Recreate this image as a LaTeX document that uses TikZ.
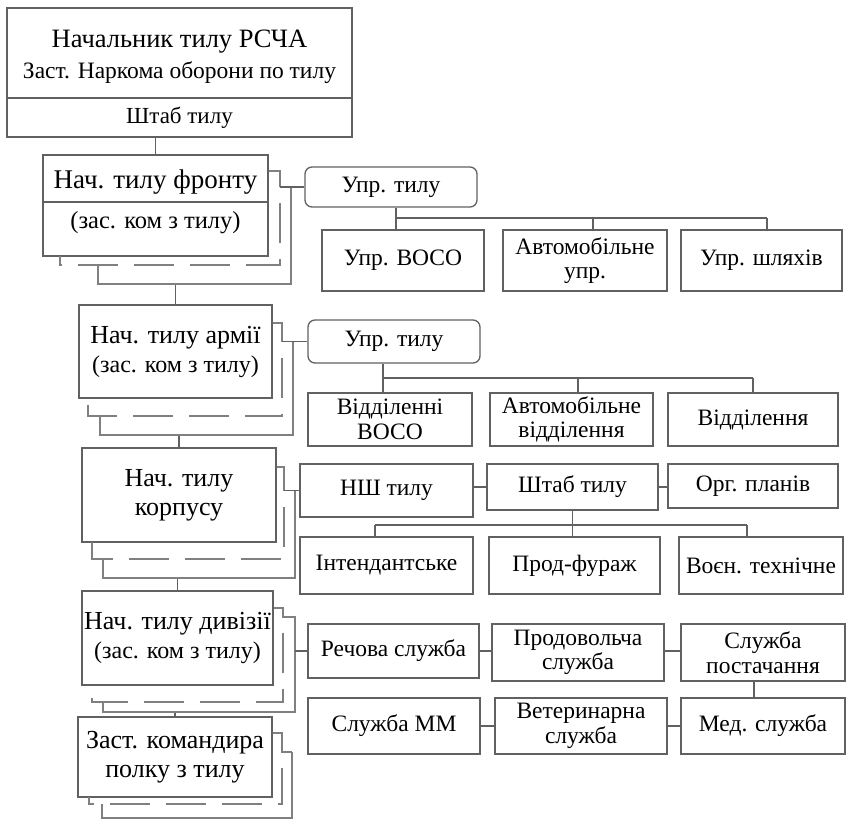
\documentclass[tikz,border=0pt]{standalone}
\usepackage{fontspec}
\setmainfont{Liberation Serif}
\newcommand\mybox[7][]{\node[box,#1,minimum width={#5-#3},minimum height={#6-#4}] (#2) at ({(#3+#5)/2},{(#4+#6)/2}) {#7};}
\newcommand\smline[1]{{\fontsize{24}{29}\selectfont #1}}
\tikzset{
  ln/.style={draw=black!62, line width=1.3pt},
  box/.style={ln, rectangle, inner sep=0pt, align=center, font=\fontsize{23.5}{24.5}\selectfont},
  lbox/.style={font=\fontsize{26}{29}\selectfont},
  rbox/.style={rounded corners=7pt},
  txt/.style={inner sep=0pt, align=center, font=\fontsize{26}{29}\selectfont},
  shd/.style={draw=black!50, line width=1.3pt},
  shdash/.style={shd, dash pattern=on 40pt off 16pt, dash phase=40pt},
}
\begin{document}
\begin{tikzpicture}[x=1pt,y=-1pt]
\useasboundingbox (0,0) rectangle (852,821);
% ---------- left column ----------
\mybox{top1}{7}{8}{352}{98}{}
\node[txt, font=\fontsize{23.5}{30.5}\selectfont] (top1t) at (179.5,57) {{\fontsize{26.5}{30.5}\selectfont Начальник тилу РСЧА}\\Заст. Наркома оборони по тилу};
\mybox[font=\fontsize{23}{26}\selectfont]{top2}{7}{98}{352}{137}{Штаб тилу}
\mybox{front1}{43}{155}{268}{202}{}
\node[txt, font=\fontsize{27}{29}\selectfont] (front1t) at (155.5,182) {Нач. тилу фронту};
\mybox{front2}{43}{202}{268}{256}{}
\node[txt, font=\fontsize{24.5}{29}\selectfont] (front2t) at (155.5,223) {(зас. ком з тилу)};
\mybox[lbox]{army}{79}{305}{272}{398}{Нач. тилу армії\\\smline{(зас. ком з тилу)}}
\mybox[lbox]{corps}{82}{448}{276}{542}{Нач. тилу\\корпусу}
\mybox[lbox]{div}{82}{591}{273}{685}{Нач. тилу дивізії\\\smline{(зас. ком з тилу)}}
\mybox[lbox]{reg}{78}{717}{272}{797}{Заст. командира\\полку з тилу}
% ---------- right: front ----------
\mybox[rbox]{u1}{305}{167}{477}{207}{Упр. тилу}
\mybox{voso1}{322}{230}{484}{291}{Упр. ВОСО}
\mybox{auto1}{503}{230}{667}{291}{Автомобільне\\упр.}
\mybox{shl}{681}{230}{842}{291}{Упр. шляхів}
% ---------- right: army ----------
\mybox[rbox]{u2}{308}{320}{480}{363}{Упр. тилу}
\mybox{voso2}{308}{393}{472}{446}{Відділенні\\ВОСО}
\mybox{auto2}{490}{393}{653}{446}{Автомобільне\\відділення}
\mybox{vid}{668}{393}{838}{446}{Відділення}
% ---------- right: corps ----------
\mybox{nsh}{300}{464}{473}{517}{НШ тилу}
\mybox{shtab}{487}{464}{658}{510}{Штаб тилу}
\mybox{org}{668}{464}{838}{508}{Орг. планів}
\mybox{int}{300}{537}{473}{594}{Інтендантське}
\mybox{prod}{489}{537}{660}{594}{Прод-фураж}
\mybox{voen}{679}{537}{843}{594}{Воєн. технічне}
% ---------- right: division ----------
\mybox{rech}{308}{624}{479}{678}{Речова служба}
\mybox{prov}{492}{624}{664}{681}{Продовольча\\служба}
\mybox{post}{681}{624}{845}{681}{Служба\\постачання}
\mybox{mm}{308}{698}{480}{754}{Служба ММ}
\mybox{vet}{495}{698}{667}{754}{Ветеринарна\\служба}
\mybox{med}{681}{698}{845}{754}{Мед. служба}
% ---------- vertical chain ----------
\draw[ln] (front1.north) -- (front1.north |- top2.south);
\draw[ln] (army.north) -- (army.north |- 0,284);
\draw[ln] (corps.north) -- (corps.north |- 0,435);
\draw[ln] (div.north) -- (div.north |- 0,578);
\draw[ln] (reg.north) -- (reg.north |- 0,712);
% ---------- shadows: front ----------
\coordinate (fb) at (280,187);
\draw[shd] (front1.east |- 0,171) -- (280,171) -- (fb);
\draw[shdash] (fb) -- (280,265) -- (60,265) -- (60,256);
\draw[shd] (291,187) -- (291,284) -- (98,284) -- (98,265);
\draw[ln] (fb) -- (u1.west);
% ---------- shadows: army ----------
\coordinate (ab) at (282,341.5);
\draw[shd] (army.east |- 0,323) -- (282,323) -- (ab);
\draw[shdash] (ab) -- (282,416) -- (88,416) -- (88,398);
\draw[shd] (293,341.5) -- (293,435) -- (100,435) -- (100,416);
\draw[ln] (ab) -- (u2.west);
% ---------- shadows: corps ----------
\coordinate (cb) at (284,490.5);
\draw[shd] (corps.east |- 0,467) -- (284,467) -- (cb);
\draw[shdash] (cb) -- (284,559) -- (92,559) -- (92,542);
\draw[shd] (295,490.5) -- (295,578) -- (103,578) -- (103,559);
\draw[ln] (cb) -- (nsh.west);
% ---------- shadows: division ----------
\coordinate (db) at (295,651);
\draw[shd] (div.east |- 0,608) -- (283,608) -- (283,617) -- (295,617) -- (db);
\draw[shdash] (283,617) -- (283,702) -- (92,702) -- (92,685);
\draw[shd] (db) -- (295,712) -- (103,712) -- (103,702);
\draw[ln] (db) -- (rech.west);
% ---------- shadows: regiment ----------
\draw[shd] (reg.east |- 0,733) -- (282,733) -- (282,752) -- (292,752);
\draw[shdash] (282,752) -- (282,804) -- (89,804) -- (89,797);
\draw[shd] (292,752) -- (292,818) -- (102,818) -- (102,804);
% ---------- front tree ----------
\draw[ln] (u1.south -| 396,0) -- (voso1.north -| 396,0);
\draw[ln] (396,218) -- (767,218);
\draw[ln] (auto1.north -| 593,0) -- (593,218);
\draw[ln] (shl.north -| 767,0) -- (767,218);
% ---------- army tree ----------
\draw[ln] (u2.south -| 383,0) -- (voso2.north -| 383,0);
\draw[ln] (383,378) -- (753,378);
\draw[ln] (auto2.north -| 578,0) -- (578,378);
\draw[ln] (vid.north -| 753,0) -- (753,378);
% ---------- corps tree ----------
\draw[ln] (nsh.east |- shtab.west) -- (shtab.west);
\draw[ln] (shtab.east) -- (org.west |- shtab.east);
\draw[ln] (shtab.south) -- (shtab.south |- 0,525);
\draw[ln] (375,525) -- (747,525);
\draw[ln] (int.north -| 375,0) -- (375,525);
\draw[ln] (prod.north -| shtab.south) -- (shtab.south |- 0,525);
\draw[ln] (voen.north -| 747,0) -- (747,525);
% ---------- division tree ----------
\draw[ln] (rech.east) -- (prov.west |- rech.east);
\draw[ln] (prov.east |- rech.east) -- (post.west |- rech.east);
\draw[ln] (post.south -| 754,0) -- (med.north -| 754,0);
\draw[ln] (mm.east) -- (vet.west |- mm.east);
\draw[ln] (vet.east |- mm.east) -- (med.west |- mm.east);
\end{tikzpicture}
\end{document}
